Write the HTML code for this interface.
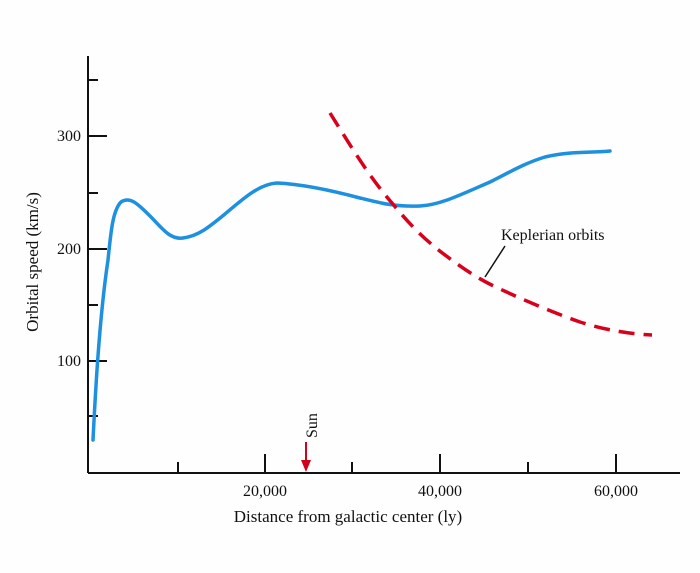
<!DOCTYPE html>
<html><head><meta charset="utf-8"><style>
html,body{margin:0;padding:0;background:#fefefe;}
svg{display:block;}
text{font-family:"Liberation Serif",serif;fill:#111;}
</style></head><body>
<svg width="700" height="573" viewBox="0 0 700 573" xmlns="http://www.w3.org/2000/svg">
<g stroke="#111" stroke-width="2" fill="none">
<line x1="88" y1="56" x2="88" y2="473"/>
<line x1="88" y1="473" x2="680" y2="473"/>
<line x1="88" y1="80" x2="98" y2="80"/>
<line x1="88" y1="136" x2="107" y2="136"/>
<line x1="88" y1="193" x2="98" y2="193"/>
<line x1="88" y1="249" x2="107" y2="249"/>
<line x1="88" y1="305" x2="98" y2="305"/>
<line x1="88" y1="361" x2="107" y2="361"/>
<line x1="88" y1="416" x2="98" y2="416"/>
<line x1="178" y1="473" x2="178" y2="462"/>
<line x1="265" y1="473" x2="265" y2="454"/>
<line x1="352" y1="473" x2="352" y2="462"/>
<line x1="440" y1="473" x2="440" y2="454"/>
<line x1="528" y1="473" x2="528" y2="462"/>
<line x1="616" y1="473" x2="616" y2="454"/>
</g>
<g font-size="16" text-anchor="end">
<text x="81" y="141">300</text>
<text x="81" y="254">200</text>
<text x="81" y="366">100</text>
</g>
<g font-size="16" text-anchor="middle">
<text x="265" y="496">20,000</text>
<text x="440" y="496">40,000</text>
<text x="616" y="496">60,000</text>
<text x="348" y="522" font-size="17">Distance from galactic center (ly)</text>
</g>
<text transform="translate(38,262) rotate(-90)" font-size="17" text-anchor="middle">Orbital speed (km/s)</text>
<text transform="translate(317,438) rotate(-90)" font-size="16">Sun</text>
<line x1="306" y1="442" x2="306" y2="462" stroke="#d0021b" stroke-width="2"/>
<polygon points="301,460 311,460 306,472" fill="#d0021b"/>
<path d="M93,440 C95,400 99,320 108,260 C111,230 113,210 121,202 C130,196 138,204 150,216 C162,228 170,240 183,238 C198,236 208,228 225,214 C245,197 260,184 277,183 C300,184 330,190 360,198 C380,203 395,207 420,206 C440,205 460,195 490,182 C510,172 525,163 545,157 C570,151 590,153 610,151" fill="none" stroke="#1e90e0" stroke-width="3.5" stroke-linecap="round"/>
<path d="M330,113 C350,145 370,178 392,203 C410,225 425,240 445,255 C465,270 480,280 500,289 C530,303 560,315 580,322 C605,330 630,334 652,335" fill="none" stroke="#d9001b" stroke-width="3.5" stroke-dasharray="16,9"/>
<line x1="505" y1="246" x2="485" y2="277" stroke="#111" stroke-width="1.5"/>
<text x="501" y="240" font-size="16">Keplerian orbits</text>
</svg>
</body></html>
